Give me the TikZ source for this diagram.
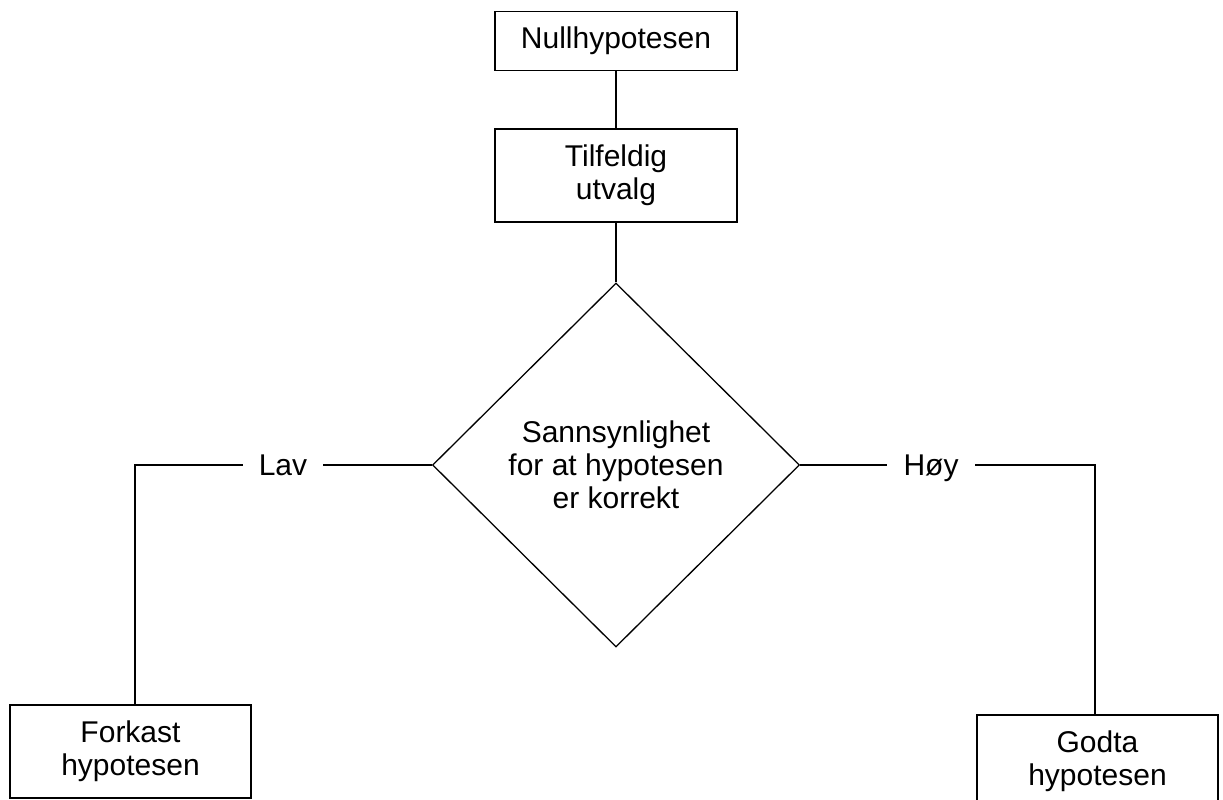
\documentclass[tikz,border=0pt]{standalone}
\usepackage{fontspec}
\setmainfont{Liberation Sans}
\usetikzlibrary{shapes.geometric}

\tikzstyle{every node}=[font={\fontsize{30}{33}\selectfont}, align=center, inner sep=0pt]
\tikzstyle{box}=[draw, line width=1.3pt, minimum width=242pt, minimum height=92pt]
\tikzstyle{decision}=[draw, diamond, line width=1.3pt, minimum width=367pt, minimum height=364pt]
\tikzstyle{answer}=[text height=21pt, text depth=0pt]
\tikzstyle{link}=[line width=1.3pt]

\begin{document}
\begin{tikzpicture}[x=1pt,y=-1pt]
    \useasboundingbox (0,0) rectangle (1223,800);
    \node [box, minimum height=59pt] (null) at (616,41) {Nullhypotesen};
    \node [box, minimum height=93pt] (utvalg) at (616,175.5) {Tilfeldig\\utvalg};
    \node [decision] (sannsyn) at (616,465) {Sannsynlighet\\for at hypotesen\\er korrekt};
    \node [answer, minimum width=80pt] (lav) at (283,465) {Lav};
    \node [answer, minimum width=88pt] (hoy) at (931,465) {Høy};
    \node [box, minimum width=241pt, minimum height=93pt] (forkast) at (130.5,751.5) {Forkast\\hypotesen};
    \node [box, minimum width=241pt] (godta) at (1097.5,761) {Godta\\hypotesen};
    \coordinate (lavhjorne) at (135,465);
    \coordinate (hoyhjorne) at (1095,465);

    \draw [link] (null) -- (utvalg);
    \draw [link] (utvalg) -- (sannsyn);
    \draw [link] (sannsyn.west) -- (lav.east);
    \draw [link] (lav.west) -- (lavhjorne) -- (lavhjorne |- forkast.north);
    \draw [link] (sannsyn.east) -- (hoy.west);
    \draw [link] (hoy.east) -- (hoyhjorne) -- (hoyhjorne |- godta.north);
\end{tikzpicture}
\end{document}
